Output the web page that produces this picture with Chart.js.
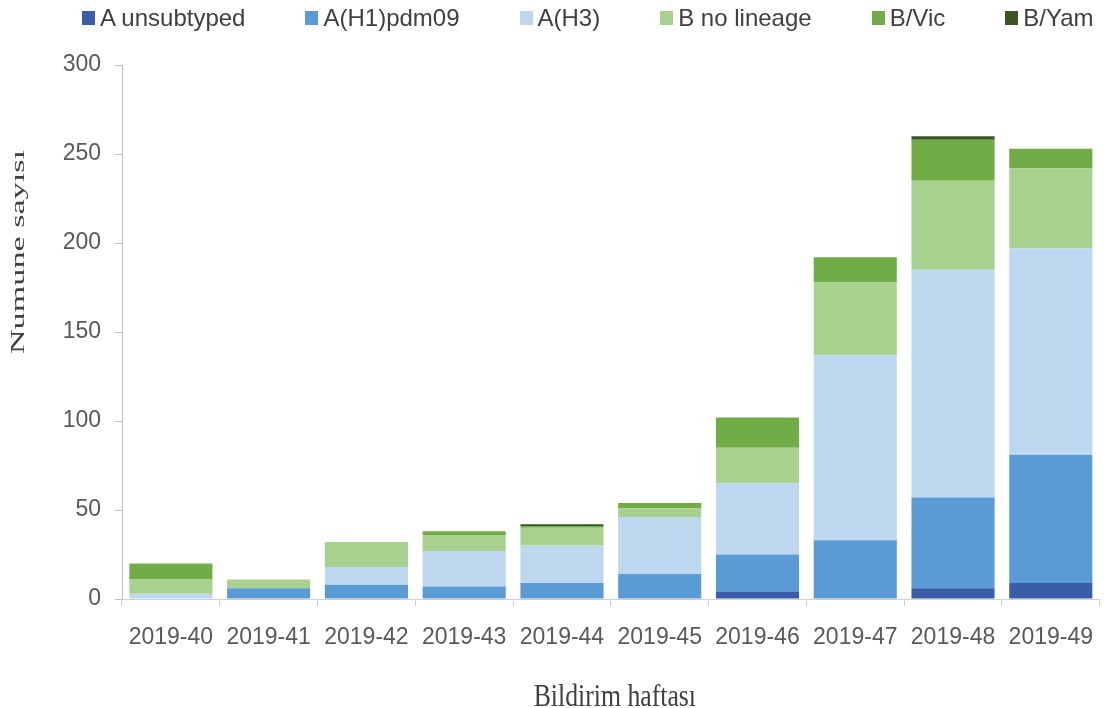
<!DOCTYPE html>
<html>
<head>
<meta charset="utf-8">
<script src="https://cdn.jsdelivr.net/npm/chart.js@4/dist/chart.umd.min.js"></script>
<style>
  html, body { margin: 0; padding: 0; background: #fff; overflow: hidden; }
  #wrap { position: relative; width: 1104px; height: 708px; overflow: hidden; }
  #box { position: absolute; left: 0; top: 0; width: 1111px; height: 716px; }
  #legend { position: absolute; left: 82px; top: 4px; display: flex; align-items: center; height: 28px;
            font-family: 'Liberation Sans', Arial, sans-serif; font-size: 24px; color: #404040; white-space: nowrap; }
  #legend .item { display: flex; align-items: center; margin-right: 60px; }
  #legend .sw { width: 13px; height: 14px; margin-right: 5px; }
</style>
</head>
<body>
<div id="wrap">
  <div id="box"><canvas id="fluChart"></canvas></div>
  <div id="legend"></div>
</div>
<script>
const weeks = ['2019-40', '2019-41', '2019-42', '2019-43', '2019-44', '2019-45', '2019-46', '2019-47', '2019-48', '2019-49'];
const aUnsubtyped = [0, 0, 0, 0, 0, 0, 4, 0, 6, 9];
const aH1pdm09   = [0, 6, 8, 7, 9, 14, 21, 33, 51, 72];
const aH3        = [3, 0, 10, 20, 21, 32, 40, 104, 128, 116];
const bNoLineage = [8, 5, 14, 9, 10, 5, 20, 41, 50, 45];
const bVic       = [9, 0, 0, 2, 1, 3, 17, 14, 23, 11];
const bYam       = [0, 0, 0, 0, 1, 0, 0, 0, 2, 0];
const yTicks = [0, 50, 100, 150, 200, 250, 300];

const seriesNames  = ['A unsubtyped', 'A(H1)pdm09', 'A(H3)', 'B no lineage', 'B/Vic', 'B/Yam'];
const seriesColors = ['#3a5da8', '#5b9bd5', '#bdd7ee', '#a9d18e', '#70ad47', '#375623'];
const seriesData   = [aUnsubtyped, aH1pdm09, aH3, bNoLineage, bVic, bYam];

const labelFont = "'Liberation Sans', Arial, sans-serif";
const serifFont = "'Liberation Serif', 'Times New Roman', serif";

// legend as plain html, one item per series
const legendEl = document.getElementById('legend');
seriesNames.forEach((name, i) => {
    const item = document.createElement('div');
    item.className = 'item';
    const sw = document.createElement('span');
    sw.className = 'sw';
    sw.style.background = seriesColors[i];
    const txt = document.createElement('span');
    txt.textContent = name;
    item.appendChild(sw);
    item.appendChild(txt);
    legendEl.appendChild(item);
});

// axis titles are stretched in the original, so they are drawn here
const axisTitles = {
    id: 'axisTitles',
    afterDraw(chart) {
        const c = chart.ctx;
        const area = chart.chartArea;
        c.save();
        c.fillStyle = '#404040';
        c.textAlign = 'center';

        c.save();
        c.font = '25px ' + serifFont;
        c.textBaseline = 'alphabetic';
        c.translate((area.left + area.right) / 2 + 4, 706);
        c.scale(1.03, 1.3);
        c.fillText('Bildirim haftası', 0, 0);
        c.restore();

        c.save();
        c.font = '19px ' + serifFont;
        c.textBaseline = 'middle';
        c.translate(19, 252);
        c.rotate(-Math.PI / 2);
        c.scale(1.8, 1);
        c.fillText('Numune sayısı', 0, 0);
        c.restore();

        c.restore();
    }
};

const ctx = document.getElementById('fluChart');

new Chart(ctx, {
    type: 'bar',
    data: {
        labels: weeks,
        datasets: seriesNames.map((name, i) => ({
            label: name,
            data: seriesData[i],
            backgroundColor: seriesColors[i]
        }))
    },
    options: {
        responsive: true,
        maintainAspectRatio: false,
        animation: false,
        layout: { padding: { top: 65, right: 0, left: 8, bottom: 0 } },
        datasets: {
            bar: { categoryPercentage: 1, barPercentage: 0.85, borderWidth: 0 }
        },
        plugins: {
            legend: { display: false },
            tooltip: { enabled: false }
        },
        scales: {
            x: {
                stacked: true,
                afterFit: axis => { axis.height = 117; },
                grid: { display: true, drawOnChartArea: false, color: '#d0d0d0', tickLength: 7, offset: true },
                border: { display: true, color: '#d0d0d0', width: 1 },
                ticks: { color: '#595959', font: { family: labelFont, size: 23 }, padding: 18, maxRotation: 0 }
            },
            y: {
                stacked: true,
                min: 0,
                max: 300,
                afterFit: axis => { axis.width = 114; },
                afterBuildTicks: axis => { axis.ticks = yTicks.map(v => ({ value: v })); },
                grid: { display: true, drawOnChartArea: false, color: '#bfbfbf', tickLength: 7 },
                border: { display: true, color: '#bfbfbf', width: 1 },
                ticks: { color: '#595959', font: { family: labelFont, size: 23 }, padding: 14 }
            }
        }
    },
    plugins: [axisTitles]
});
</script>
</body>
</html>
